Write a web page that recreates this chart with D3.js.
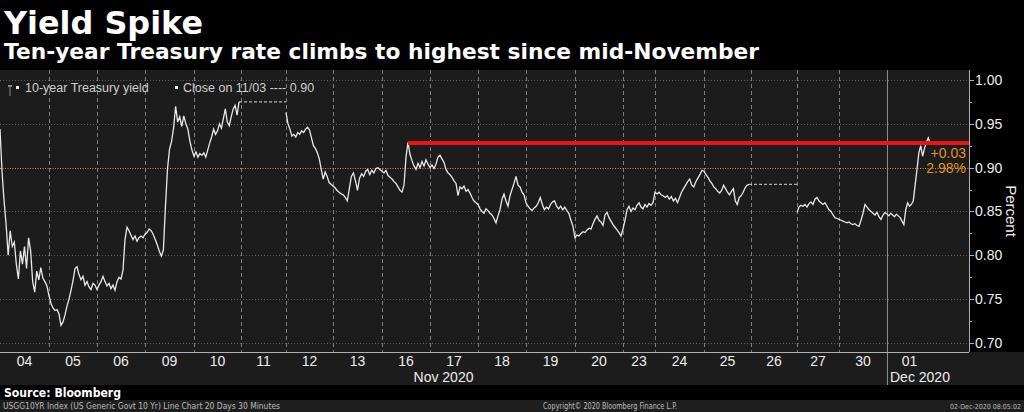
<!DOCTYPE html>
<html>
<head>
<meta charset="utf-8">
<script src="https://cdn.jsdelivr.net/npm/d3@7"></script>
<style>
  body { margin: 0; background: #000; }
  svg { display: block; }
</style>
</head>
<body>
<svg id="chart" width="1024" height="412"></svg>
<script>
// trading days shown on the x axis, and how many 30-minute bars each one has
const dayLabels = ["04", "05", "06", "09", "10", "11", "12", "13", "16", "17",
                   "18", "19", "20", "23", "24", "25", "26", "27", "30", "01"];
const dayBars = [49, 48, 48, 49, 47, 45, 47, 49, 48, 48,
                 48, 49, 48, 32, 49, 47, 46, 42, 48, 45];
const monthNames = ["Nov 2020", "Dec 2020"];
const monthFirstDay = [0, 19];

// 10-year yield, samples per day (null = market closed)
const day04 = [0.944, 0.895, 0.862, 0.835, 0.800, 0.828, 0.810, 0.815, 0.790, 0.773, 0.805, 0.790,
               0.810, 0.785, 0.820, 0.805, 0.770, 0.758, 0.782, 0.772, 0.786, 0.774, 0.770, 0.765];
const day05 = [0.754, 0.745, 0.740, 0.737, 0.738, 0.733, 0.720, 0.724, 0.732, 0.742, 0.750, 0.760,
               0.771, 0.785, 0.787, 0.778, 0.772, 0.776, 0.766, 0.770, 0.764, 0.761, 0.768, 0.766];
const day06 = [0.761, 0.766, 0.770, 0.776, 0.770, 0.765, 0.768, 0.762, 0.766, 0.760, 0.770, 0.775,
               0.773, 0.783, 0.818, 0.832, 0.828, 0.823, 0.818, 0.822, 0.816, 0.820, 0.822, 0.820];
const day09 = [0.824, 0.826, 0.830, 0.828, 0.824, 0.818, 0.812, 0.805, 0.799, 0.806, 0.855, 0.898,
               0.921, 0.930, 0.945, 0.970, 0.952, 0.958, 0.947, 0.959, 0.950, 0.944, 0.930, 0.920];
const day10 = [0.913, 0.918, 0.912, 0.916, 0.914, 0.917, 0.912, 0.920, 0.928, 0.935, 0.944, 0.938,
               0.942, 0.950, 0.945, 0.956, 0.967, 0.952, 0.948, 0.958, 0.967, 0.971, 0.960, 0.975];
const day12 = [0.963, 0.950, 0.944, 0.936, 0.938, 0.935, 0.940, 0.938, 0.942, 0.940, 0.944, 0.946,
               0.943, 0.934, 0.925, 0.922, 0.917, 0.910, 0.898, 0.887, 0.895, 0.890, 0.883, 0.881];
const day13 = [0.879, 0.877, 0.874, 0.872, 0.870, 0.869, 0.866, 0.862, 0.876, 0.890, 0.894, 0.885,
               0.874, 0.888, 0.893, 0.890, 0.896, 0.898, 0.892, 0.897, 0.894, 0.899, 0.900, 0.898];
const day16 = [0.896, 0.894, 0.897, 0.891, 0.889, 0.887, 0.884, 0.882, 0.878, 0.874, 0.872, 0.880,
               0.912, 0.929, 0.915, 0.908, 0.902, 0.898, 0.905, 0.900, 0.907, 0.902, 0.909, 0.904];
const day17 = [0.900, 0.903, 0.899, 0.904, 0.912, 0.914, 0.910, 0.906, 0.898, 0.894, 0.892, 0.889,
               0.885, 0.882, 0.868, 0.878, 0.876, 0.879, 0.873, 0.875, 0.871, 0.866, 0.862, 0.860];
const day18 = [0.858, 0.853, 0.850, 0.848, 0.853, 0.851, 0.848, 0.846, 0.842, 0.837, 0.845, 0.852,
               0.864, 0.870, 0.862, 0.856, 0.868, 0.875, 0.882, 0.890, 0.880, 0.878, 0.872, 0.869];
const day19 = [0.860, 0.856, 0.853, 0.851, 0.854, 0.856, 0.860, 0.866, 0.858, 0.852, 0.855, 0.853,
               0.858, 0.861, 0.862, 0.856, 0.853, 0.856, 0.852, 0.855, 0.851, 0.848, 0.840, 0.833];
const day20 = [0.820, 0.823, 0.822, 0.825, 0.827, 0.826, 0.829, 0.831, 0.830, 0.836, 0.841, 0.845,
               0.840, 0.838, 0.834, 0.846, 0.849, 0.843, 0.839, 0.835, 0.832, 0.829, 0.826, 0.822];
const day23 = [0.830, 0.840, 0.852, 0.856, 0.850, 0.854, 0.852, 0.857,
               0.860, 0.855, 0.853, 0.858, 0.855, 0.859, 0.857, 0.860];
const day24 = [0.872, 0.870, 0.872, 0.869, 0.868, 0.866, 0.868, 0.864, 0.867, 0.862, 0.865, 0.860,
               0.866, 0.872, 0.876, 0.880, 0.884, 0.887, 0.880, 0.878, 0.884, 0.888, 0.892, 0.897];
const day25 = [0.896, 0.892, 0.889, 0.885, 0.882, 0.878, 0.876, 0.873, 0.871, 0.874, 0.880, 0.876,
               0.872, 0.869, 0.873, 0.876, 0.862, 0.858, 0.866, 0.868, 0.872, 0.877, 0.880, 0.881];
const day27 = [0.849, 0.855, 0.857, 0.856, 0.858, 0.855, 0.859, 0.861, 0.858, 0.864, 0.866,
               0.862, 0.860, 0.858, 0.860, 0.856, 0.852, 0.850, 0.846, 0.843, 0.842];
const day30 = [0.841, 0.840, 0.839, 0.838, 0.837, 0.838, 0.836, 0.835, 0.836, 0.834, 0.833, 0.840,
               0.848, 0.858, 0.855, 0.852, 0.850, 0.848, 0.846, 0.849, 0.844, 0.841, 0.846, 0.849];
const day01 = [0.847, 0.845, 0.848, 0.846, 0.844, 0.847, 0.845, 0.843, 0.839, 0.835, 0.852, 0.860,
               0.856, 0.858, 0.862, 0.880, 0.898, 0.917, 0.925, 0.913, 0.922, 0.929, 0.934, 0.927];
const dayYields = [day04, day05, day06, day09, day10, null, day12, day13, day16, day17,
                   day18, day19, day20, day23, day24, day25, null, day27, day30, day01];

const yTicks = [0.70, 0.75, 0.80, 0.85, 0.90, 0.95, 1.00];
const yMinorTicks = [0.725, 0.775, 0.825, 0.875, 0.925, 0.975];
const priorClose = 0.90;
const priorCloseLabel = "Close on 11/03";
const changeLabels = ["+0.03", "2.98%"];
const highLevel = 0.928;     // Nov 16 high marked in red
const highDay = "16";
const emptyBarsAfterLast = 37;

const svg = d3.select("#chart");
const W = 1024, H = 412;
const plot = {left: 0, right: 969, top: 70, bottom: 352};
const grey = "#1c1c1c";
const orange = "#e3922b";
const axisFont = "Liberation Sans, Arial, sans-serif";
const crisp = v => Math.round(v) + 0.5;

// backgrounds
svg.append("rect").attr("width", W).attr("height", H).attr("fill", "#000");
svg.append("rect").attr("x", plot.left).attr("y", plot.top)
    .attr("width", plot.right - plot.left).attr("height", plot.bottom - plot.top)
    .attr("fill", grey);
svg.append("rect").attr("x", 0).attr("y", plot.bottom)
    .attr("width", W).attr("height", 385 - plot.bottom).attr("fill", grey);
svg.append("rect").attr("x", 0).attr("y", 400)
    .attr("width", W).attr("height", H - 400).attr("fill", "#1e1e1e");

// titles
svg.append("text").attr("x", 4).attr("y", 34)
    .attr("textLength", 199).attr("lengthAdjust", "spacingAndGlyphs")
    .style("font-family", "DejaVu Sans, sans-serif").style("font-weight", "bold")
    .style("font-size", "32px").attr("fill", "#fff")
    .text("Yield Spike");
svg.append("text").attr("x", 4).attr("y", 59)
    .attr("textLength", 755).attr("lengthAdjust", "spacingAndGlyphs")
    .style("font-family", "DejaVu Sans, sans-serif").style("font-weight", "bold")
    .style("font-size", "21px").attr("fill", "#fff")
    .text("Ten-year Treasury rate climbs to highest since mid-November");

// scales
const totalBars = d3.sum(dayBars);
const x = d3.scaleLinear()
    .domain([0, totalBars + emptyBarsAfterLast])
    .range([plot.left, plot.right]);
const y = d3.scaleLinear()
    .domain([0.6897, 1.0114])
    .range([plot.bottom, plot.top]);

// day start bars
let dayStart = [];
let acc = 0;
dayBars.forEach(b => { dayStart.push(acc); acc += b; });

// horizontal grid
svg.append("g").selectAll("line")
    .data(yTicks.filter(t => t !== priorClose))
    .enter().append("line")
    .attr("x1", plot.left).attr("x2", plot.right)
    .attr("y1", d => crisp(y(d))).attr("y2", d => crisp(y(d)))
    .attr("stroke", "#5e5e5e").attr("stroke-width", 1)
    .attr("stroke-dasharray", "1,2");

// vertical day grid
const monthStart = monthFirstDay.map(i => dayStart[i]);
svg.append("g").selectAll("line")
    .data(dayStart.slice(1).filter(b => !monthStart.includes(b)))
    .enter().append("line")
    .attr("x1", d => crisp(x(d))).attr("x2", d => crisp(x(d)))
    .attr("y1", plot.top).attr("y2", plot.bottom)
    .attr("stroke", "#808080").attr("stroke-width", 1)
    .attr("stroke-dasharray", "4,3");
svg.append("g").selectAll("line")
    .data(monthStart.slice(1))
    .enter().append("line")
    .attr("x1", d => crisp(x(d))).attr("x2", d => crisp(x(d)))
    .attr("y1", plot.top).attr("y2", 385)
    .attr("stroke", "#8c8c8c").attr("stroke-width", 1);

// prior close line
svg.append("line")
    .attr("x1", plot.left).attr("x2", plot.right)
    .attr("y1", crisp(y(priorClose))).attr("y2", crisp(y(priorClose)))
    .attr("stroke", orange).attr("stroke-width", 1)
    .attr("stroke-dasharray", "1,1.5");

// build series points; closed days are drawn as a dashed carry-over
let points = [];
let closedSpans = [];
dayLabels.forEach((lab, i) => {
    const vals = dayYields[i];
    if (vals) {
        vals.forEach((v, j) => points.push({bar: dayStart[i] + j * dayBars[i] / vals.length, v: v}));
    } else {
        const prev = points[points.length - 1];
        closedSpans.push({from: prev.bar, to: dayStart[i] + dayBars[i], v: prev.v});
        points.push(null);
    }
});

const line = d3.line()
    .defined(d => d !== null)
    .x(d => x(d.bar))
    .y(d => y(d.v));

svg.append("g").selectAll("line")
    .data(closedSpans)
    .enter().append("line")
    .attr("x1", d => x(d.from)).attr("x2", d => x(d.to))
    .attr("y1", d => y(d.v)).attr("y2", d => y(d.v))
    .attr("stroke", "#d8d8d8").attr("stroke-width", 1)
    .attr("stroke-dasharray", "3,2");

svg.append("path")
    .datum(points)
    .attr("d", line)
    .attr("fill", "none")
    .attr("stroke", "#e8e8e8")
    .attr("stroke-width", 1.3)
    .attr("stroke-linejoin", "miter");

// red line from the Nov 16 high
const hi = dayLabels.indexOf(highDay);
const hiVals = dayYields[hi];
const hiIdx = hiVals.indexOf(d3.max(hiVals));
const hiBar = dayStart[hi] + hiIdx * dayBars[hi] / hiVals.length;
svg.append("line")
    .attr("x1", x(hiBar)).attr("x2", plot.right)
    .attr("y1", y(highLevel)).attr("y2", y(highLevel))
    .attr("stroke", "#e8131b").attr("stroke-width", 4);

// change labels
svg.append("g").selectAll("text")
    .data(changeLabels)
    .enter().append("text")
    .attr("x", plot.right - 3)
    .attr("y", (d, i) => 158 + i * 15)
    .attr("text-anchor", "end")
    .style("font-family", axisFont).style("font-size", "14px")
    .attr("fill", orange)
    .text(d => d);

// right axis
svg.append("line")
    .attr("x1", crisp(plot.right)).attr("x2", crisp(plot.right))
    .attr("y1", plot.top).attr("y2", plot.bottom)
    .attr("stroke", "#b0b0b0");
const yAxis = svg.append("g");
yAxis.selectAll("line.major")
    .data(yTicks).enter().append("line")
    .attr("x1", plot.right).attr("x2", plot.right + 5)
    .attr("y1", d => crisp(y(d))).attr("y2", d => crisp(y(d)))
    .attr("stroke", "#b0b0b0");
yAxis.selectAll("line.minor")
    .data(yMinorTicks).enter().append("line")
    .attr("x1", plot.right).attr("x2", plot.right + 3)
    .attr("y1", d => crisp(y(d))).attr("y2", d => crisp(y(d)))
    .attr("stroke", "#b0b0b0");
yAxis.selectAll("text")
    .data(yTicks).enter().append("text")
    .attr("x", plot.right + 6)
    .attr("y", d => y(d) + 5)
    .style("font-family", axisFont).style("font-size", "14px")
    .attr("fill", "#eee")
    .text(d => d.toFixed(2));
svg.append("text")
    .attr("transform", "translate(1006," + ((plot.top + plot.bottom) / 2) + ") rotate(90)")
    .attr("text-anchor", "middle")
    .style("font-family", axisFont).style("font-size", "15px")
    .attr("fill", "#eee")
    .text("Percent");

// x axis
svg.append("line")
    .attr("x1", plot.left).attr("x2", plot.right)
    .attr("y1", crisp(plot.bottom)).attr("y2", crisp(plot.bottom))
    .attr("stroke", "#b0b0b0");
svg.append("g").selectAll("text")
    .data(dayLabels).enter().append("text")
    .attr("x", (d, i) => x(dayStart[i] + dayBars[i] / 2))
    .attr("y", 366)
    .attr("text-anchor", "middle")
    .style("font-family", axisFont).style("font-size", "14px")
    .attr("fill", "#eee")
    .text(d => d);
monthNames.forEach((m, i) => {
    const from = x(dayStart[monthFirstDay[i]]);
    const to = i + 1 < monthNames.length ? x(dayStart[monthFirstDay[i + 1]]) : plot.right;
    const t = svg.append("text")
        .attr("y", 382)
        .style("font-family", axisFont).style("font-size", "14px")
        .attr("fill", "#eee")
        .text(m);
    const w = t.node().getComputedTextLength();
    // narrow month ranges get the label pinned to the month start
    t.attr("x", (to - from) < 2 * w ? from + 3 : (from + to) / 2 - w / 2);
});

// legend
const legend = svg.append("g");
legend.append("rect").attr("x", 8).attr("y", 85).attr("width", 4).attr("height", 2).attr("fill", "#888");
legend.append("rect").attr("x", 9.5).attr("y", 87).attr("width", 1).attr("height", 9).attr("fill", "#888");
legend.append("rect").attr("x", 16).attr("y", 86).attr("width", 3).attr("height", 3).attr("fill", "#eee");
legend.append("text").attr("x", 25).attr("y", 92)
    .style("font-family", axisFont).style("font-size", "12.5px").attr("fill", "#d0d0d0")
    .text("10-year Treasury yield");
legend.append("rect").attr("x", 175).attr("y", 86).attr("width", 3).attr("height", 3).attr("fill", "#eee");
legend.append("text").attr("x", 183).attr("y", 92)
    .style("font-family", axisFont).style("font-size", "12.5px").attr("fill", "#d0d0d0")
    .text(priorCloseLabel + " ---- " + priorClose.toFixed(2));

// footer
svg.append("text").attr("x", 4).attr("y", 397)
    .attr("textLength", 117).attr("lengthAdjust", "spacingAndGlyphs")
    .style("font-family", "DejaVu Sans, sans-serif").style("font-weight", "bold")
    .style("font-size", "12px").attr("fill", "#fff")
    .text("Source: Bloomberg");
const footFont = "DejaVu Sans Condensed, DejaVu Sans, sans-serif";
svg.append("text").attr("x", 3).attr("y", 409)
    .attr("textLength", 277).attr("lengthAdjust", "spacingAndGlyphs")
    .style("font-family", footFont).style("font-size", "8.5px").attr("fill", "#bdbdbd")
    .text("USGG10YR Index (US Generic Govt 10 Yr) Line Chart 20 Days 30 Minutes");
svg.append("text").attr("x", 543).attr("y", 409)
    .attr("textLength", 134).attr("lengthAdjust", "spacingAndGlyphs")
    .style("font-family", footFont).style("font-size", "8.5px").attr("fill", "#bdbdbd")
    .text("Copyright\u00a9 2020 Bloomberg Finance L.P.");
svg.append("text").attr("x", 1021).attr("y", 409)
    .attr("text-anchor", "end")
    .style("font-family", footFont).style("font-size", "7px").attr("fill", "#bdbdbd")
    .text("02-Dec-2020 08:05:02");
</script>
</body>
</html>
